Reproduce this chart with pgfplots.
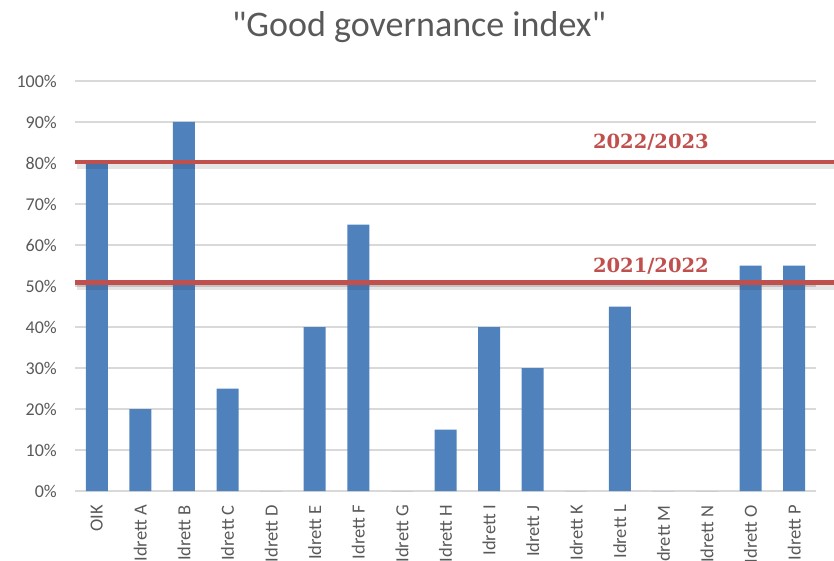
\documentclass[border=0pt]{standalone}
\usepackage{pgfplots}
\pgfplotsset{compat=1.18}
\usepackage{fontspec}
\setmainfont{Carlito}
\newfontfamily\titlefont{Carlito}[Ligatures=TeXOff]
\newfontfamily\labfont{DejaVu Serif}
\definecolor{barblue}{HTML}{4F81BD}
\definecolor{refred}{HTML}{C0504D}
\definecolor{txtgray}{HTML}{595959}
\definecolor{gridgray}{HTML}{D9D9D9}
\pgfplotstableread{
x y
0 80
1 20
2 90
3 25
4 0
5 40
6 65
7 0
8 15
9 40
10 30
11 0
12 45
13 0
14 0
15 55
16 55
}\govdata
\begin{document}
\begin{tikzpicture}
\begin{axis}[name=ax, scale only axis, width=741pt, height=410pt,
  xmin=-0.5, xmax=16.5, ymin=0, ymax=100, clip=false,
  axis line style={draw=none}, major tick length=0pt,
  ytick={0,10,...,100}, yticklabel={\pgfmathprintnumber{\tick}\%},
  ymajorgrids, grid style={gridgray, line width=1.5pt},
  xtick={0,...,16},
  xticklabels={OIK,Idrett A,Idrett B,Idrett C,Idrett D,Idrett E,Idrett F,Idrett G,Idrett H,Idrett I,Idrett J,Idrett K,Idrett L,Idrett M,Idrett N,Idrett O,Idrett P},
  ticklabel style={font=\fontsize{18}{20}\selectfont, text=txtgray},
  /pgf/number format/assume math mode=true,
  yticklabel style={anchor=east, inner sep=0pt}, yticklabel shift=18pt,
  xticklabel style={rotate=90, anchor=east, inner sep=0pt, font=\fontsize{18.5}{20}\selectfont}, xticklabel shift=14pt,
]
\addplot[ybar, bar width=22pt, fill=barblue, draw=none] table[x=x,y=y] {\govdata};
\addplot[black, opacity=0.10, line width=6pt, forget plot] coordinates {(-0.45,79.3) (17,79.3)};
\addplot[refred, line width=4.5pt, forget plot] coordinates {(-0.5,80.3) (17,80.3)};
\addplot[black, opacity=0.10, line width=6pt, forget plot] coordinates {(-0.45,49.8) (17,49.8)};
\addplot[refred, line width=4.5pt, forget plot] coordinates {(-0.5,50.8) (17,50.8)};
\node[anchor=base west, text=refred, font=\labfont\bfseries\fontsize{19.5}{22}\selectfont, inner sep=0pt] at (axis cs:11.38,83.6) {2022/2023};
\node[anchor=base west, text=refred, font=\labfont\bfseries\fontsize{19.5}{22}\selectfont, inner sep=0pt] at (axis cs:11.38,53.4) {2021/2022};
\end{axis}
\pgfresetboundingbox
\useasboundingbox ([xshift=-75pt,yshift=-69pt]ax.south west) rectangle ([xshift=18pt,yshift=81pt]ax.north east);
\node[anchor=base, font=\titlefont\fontsize{36}{40}\selectfont, text=txtgray, inner sep=0pt] at ([xshift=344pt, yshift=44pt]ax.north west) {"Good governance index"};
\end{tikzpicture}
\end{document}
